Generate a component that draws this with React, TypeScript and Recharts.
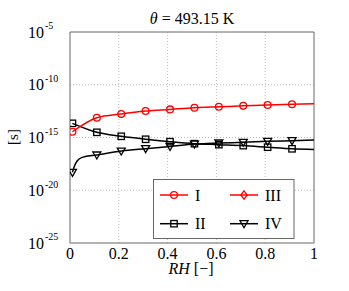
import { LineChart, Line, XAxis, YAxis, CartesianGrid, ReferenceArea } from "recharts"

const FONT = "'Liberation Serif', 'DejaVu Serif', serif"

// relative humidity of the plotted markers
const markerRH = [0.01, 0.11, 0.21, 0.31, 0.41, 0.51, 0.61, 0.71, 0.81, 0.91]

const rhI = [0.01, 0.11, 0.21, 0.31, 0.41, 0.51, 0.61, 0.71, 0.81, 0.91, 1.0]
const valuesI = [3.5e-15, 7.4e-14, 1.7e-13, 3.2e-13, 4.6e-13, 6.6e-13, 8.1e-13, 1.0e-12, 1.2e-12, 1.4e-12, 1.6e-12]

const rhII = [0.01, 0.11, 0.21, 0.31, 0.41, 0.51, 0.61, 0.71, 0.81, 0.91, 1.0]
const valuesII = [2.2e-14, 3.1e-15, 1.3e-15, 6.8e-16, 4.0e-16, 2.6e-16, 2.1e-16, 1.7e-16, 1.2e-16, 8.5e-17, 7.3e-17]

const rhIV = [0.01, 0.02, 0.03, 0.05, 0.11, 0.21, 0.31, 0.41, 0.51, 0.61, 0.71, 0.81, 0.91, 1.0]
const valuesIV = [5.0e-19, 2.5e-18, 6.3e-18, 1.3e-17, 2.2e-17, 5.2e-17, 8.7e-17, 1.4e-16, 2.4e-16, 3.0e-16, 3.5e-16, 4.3e-16, 5.0e-16, 5.8e-16]

const xTicks = [0, 0.2, 0.4, 0.6, 0.8, 1]
const yExponents = [-25, -20, -15, -10, -5]
const yTicks = [1e-25, 1e-20, 1e-15, 1e-10, 1e-5]

const legendItems = [
  { name: "I", color: "#ff0000", marker: "circle" },
  { name: "III", color: "#ff0000", marker: "diamond" },
  { name: "II", color: "#000000", marker: "square" },
  { name: "IV", color: "#000000", marker: "triangle" },
]

const toPoints = (rh: number[], vals: number[]) => rh.map((x, i) => ({ rh: x, v: vals[i] }))

function Marker({ kind, cx, cy, color }: { kind: string; cx: number; cy: number; color: string }) {
  const common = { fill: "none", stroke: color, strokeWidth: 1.3 }
  if (kind === "circle") return <circle cx={cx} cy={cy} r={3.4} {...common} />
  if (kind === "square") return <rect x={cx - 3.2} y={cy - 3.2} width={6.4} height={6.4} {...common} />
  if (kind === "diamond")
    return <polygon points={`${cx},${cy - 4.2} ${cx + 3.2},${cy} ${cx},${cy + 4.2} ${cx - 3.2},${cy}`} {...common} />
  return <polygon points={`${cx - 4},${cy - 3} ${cx + 4},${cy - 3} ${cx},${cy + 4}`} {...common} />
}

const makeDot = (kind: string, color: string) => (props: any) => {
  const { cx, cy, payload, index } = props
  if (!markerRH.includes(payload.rh) || cx == null || cy == null) return <g key={index} />
  return (
    <g key={index}>
      <Marker kind={kind} cx={cx} cy={cy} color={color} />
    </g>
  )
}

function YTick({ y, index }: any) {
  return (
    <text y={y} fontFamily={FONT} fill="#000">
      <tspan x={28} dy={5.6} fontSize={16}>10</tspan>
      <tspan x={45} dy={-8.3} fontSize={10}>{yExponents[index]}</tspan>
    </text>
  )
}

function XTick({ x, payload }: any) {
  return (
    <text x={x} y={259} textAnchor="middle" fontFamily={FONT} fontSize={16} fill="#000">
      {payload.value}
    </text>
  )
}

function LegendBox() {
  const cols = [160, 230]
  const rows = [195, 223.7]
  return (
    <svg width={349} height={291} style={{ position: "absolute", left: 0, top: 0, pointerEvents: "none" }}>
      <rect x={153.5} y={179.5} width={140.5} height={59} fill="#fff" stroke="#666" strokeWidth={1} />
      {legendItems.map((it, i) => {
        const cx = cols[i % 2]
        const cy = rows[Math.floor(i / 2)]
        return (
          <g key={it.name}>
            <line x1={cx} x2={cx + 28} y1={cy} y2={cy} stroke={it.color} strokeWidth={1.5} />
            <Marker kind={it.marker} cx={cx + 14} cy={cy} color={it.color} />
            <text x={cx + 35} y={cy + 5.5} fontFamily={FONT} fontSize={16} fill="#000">
              {it.name}
            </text>
          </g>
        )
      })}
    </svg>
  )
}

export default function App() {
  return (
    <div style={{ position: "absolute", left: 0, top: 0, width: 349, height: 291, background: "#fff" }}>
      <LineChart width={349} height={291} margin={{ top: 32, right: 35, left: 0, bottom: 0 }}>
        <CartesianGrid
          stroke="#bdbdbd"
          strokeDasharray="1 2"
          horizontalValues={[1e-20, 1e-15, 1e-10]}
          verticalValues={[0.2, 0.4, 0.6, 0.8]}
        />
        <XAxis
          type="number"
          dataKey="rh"
          domain={[0, 1]}
          ticks={xTicks}
          height={48}
          tick={<XTick />}
          tickLine={false}
          axisLine={false}
          allowDataOverflow
        />
        <YAxis
          type="number"
          scale="log"
          domain={[1e-25, 1e-5]}
          ticks={yTicks}
          width={70}
          tick={<YTick />}
          tickLine={false}
          axisLine={false}
          allowDataOverflow
        />
        <ReferenceArea x1={0} x2={1} y1={1e-25} y2={1e-5} fill="none" stroke="#666" strokeWidth={1} />
        <Line
          data={toPoints(rhII, valuesII)}
          dataKey="v"
          type="monotone"
          stroke="#000"
          strokeWidth={1.5}
          dot={makeDot("square", "#000")}
          isAnimationActive={false}
        />
        <Line
          data={toPoints(rhIV, valuesIV)}
          dataKey="v"
          type="monotone"
          stroke="#000"
          strokeWidth={1.5}
          dot={makeDot("triangle", "#000")}
          isAnimationActive={false}
        />
        <Line
          data={toPoints(rhI, valuesI)}
          dataKey="v"
          type="monotone"
          stroke="#ff0000"
          strokeWidth={1.5}
          dot={makeDot("circle", "#ff0000")}
          isAnimationActive={false}
        />
        <text x={192} y={24} textAnchor="middle" fontFamily={FONT} fontSize={16} fill="#000">
          <tspan fontStyle="italic">θ</tspan> = 493.15 K
        </text>
        <text x={191} y={274} textAnchor="middle" fontFamily={FONT} fontSize={16} fill="#000">
          <tspan fontStyle="italic">RH</tspan> [−]
        </text>
        <text x={18} y={137} textAnchor="middle" fontFamily={FONT} fontSize={15} fill="#000" transform="rotate(-90 18 137)">
          [s]
        </text>
      </LineChart>
      <LegendBox />
    </div>
  )
}
